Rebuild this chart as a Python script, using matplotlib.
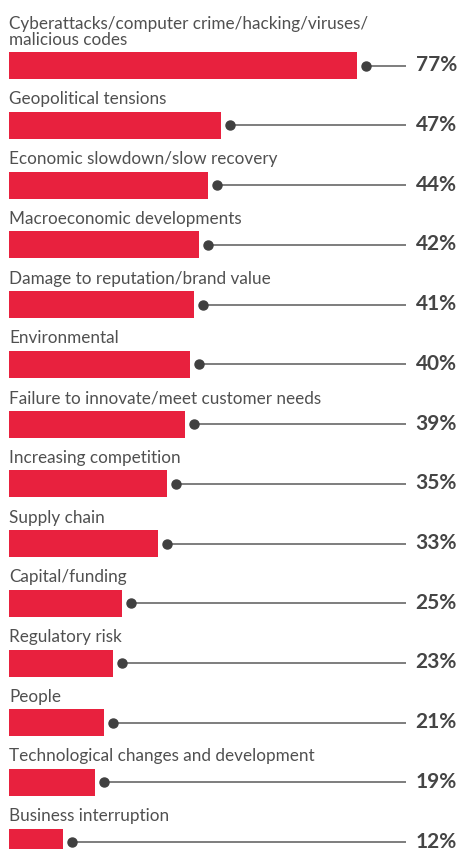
import matplotlib
matplotlib.use("Agg")
import matplotlib.pyplot as plt
from matplotlib.transforms import ScaledTranslation, blended_transform_factory

categories = [
    "Cyberattacks/computer crime/hacking/viruses/\nmalicious codes",
    "Geopolitical tensions",
    "Economic slowdown/slow recovery",
    "Macroeconomic developments",
    "Damage to reputation/brand value",
    "Environmental",
    "Failure to innovate/meet customer needs",
    "Increasing competition",
    "Supply chain",
    "Capital/funding",
    "Regulatory risk",
    "People",
    "Technological changes and development",
    "Business interruption",
]
values = [77, 47, 44, 42, 41, 40, 39, 35, 33, 25, 23, 21, 19, 12]

W, H = 458, 849
DPI = 100
fig = plt.figure(figsize=(W / DPI, H / DPI), dpi=DPI)
ax = fig.add_axes([0, 0, 1, 1])
ax.set_axis_off()

px_per_unit = 348 / 77.0
left_px = 9
ax.set_xlim(-left_px / px_per_unit, (W - left_px) / px_per_unit)
row_px = 59.75
first_px = 65.5
ax.set_ylim((H - first_px) / row_px, -first_px / row_px)

bar_color = "#E8213E"
text_color = "#505050"
line_color = "#5a5a5a"
bar_h = 27 / row_px
font = ["Lato", "DejaVu Sans"]

ypos = list(range(len(values)))
ax.barh(ypos, values, height=bar_h, color=bar_color, left=0)

dot_off = ScaledTranslation(9 / DPI, 0, fig.dpi_scale_trans)
blend = blended_transform_factory(ax.transAxes, ax.transData)
for i, (cat, v) in enumerate(zip(categories, values)):
    x0_ax = ax.transAxes.inverted().transform(
        (ax.transData + dot_off).transform((v, i)))[0]
    ax.plot([x0_ax, 406 / W], [i, i], transform=blend, color=line_color,
            lw=1.1, solid_capstyle="butt")
    ax.plot([v], [i], marker="o", ms=6.5, color="#404040",
            transform=ax.transData + dot_off, clip_on=False)
    ax.text(1 - 1 / W, i + 5.5 / row_px, f"{v}%", transform=blend, ha="right",
            va="baseline", fontsize=15, fontweight="bold", color="#454545",
            family=font)
    ax.text(0, i - bar_h / 2 - 7.5 / row_px, cat, ha="left", va="baseline",
            fontsize=12.3, color=text_color, family=font, linespacing=1.0)

fig.savefig("out.png", dpi=DPI)
